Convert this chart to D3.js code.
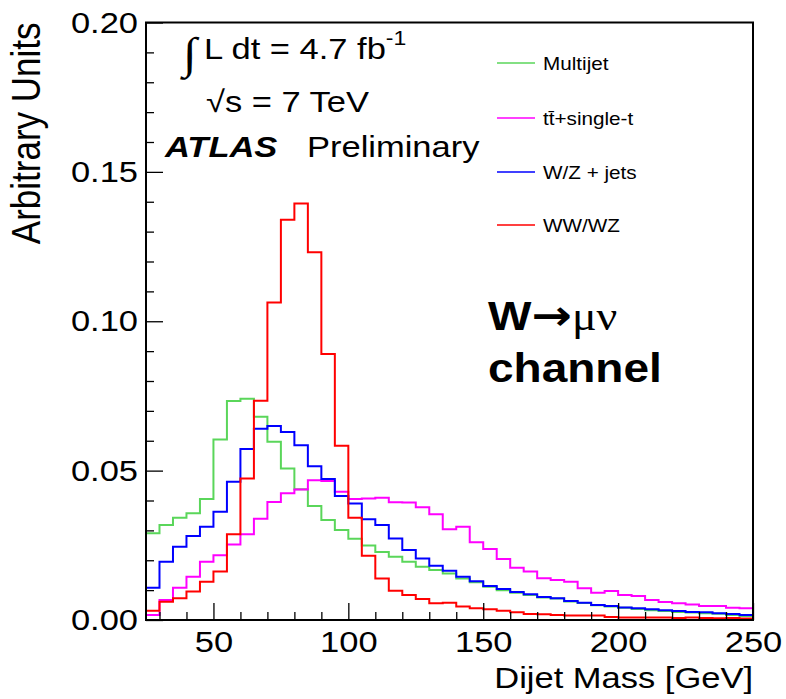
<!DOCTYPE html>
<html><head><meta charset="utf-8">
<script src="https://cdn.jsdelivr.net/npm/d3@7"></script>
<style>
body{margin:0;background:#fff}
text{font-family:"Liberation Sans",Arial,Helvetica,sans-serif;fill:#000}
</style>
</head><body>
<svg id="chart" width="786" height="699"></svg>
<script>
// ---------- data ----------
const binLow = [25,30,35,40,45,50,55,60,65,70,75,80,85,90,95,100,105,110,115,120,125,130,135,140,145,150,155,160,165,170,175,180,185,190,195,200,205,210,215,220,225,230,235,240,245];
const binHigh = 250;
const xTickLabels = [50,100,150,200,250];
const xMinorTicks = [30,40,60,70,80,90,110,120,130,140,160,170,180,190,210,220,230,240];
const yTickLabels = [0.00,0.05,0.10,0.15,0.20];
const yMinorTicks = [0.01,0.02,0.03,0.04,0.06,0.07,0.08,0.09,0.11,0.12,0.13,0.14,0.16,0.17,0.18,0.19];
const seriesNames = ["Multijet","t\u0074\u0304+single-t","W/Z + jets","WW/WZ"];

const multijet = [0.0290,0.0318,0.0342,0.0357,0.0405,0.0604,0.0733,0.0741,0.0680,0.0597,0.0507,0.0438,0.0382,0.0335,0.0301,0.0272,0.0249,0.0228,0.0212,0.0195,0.0178,0.0167,0.0156,0.0139,0.0126,0.0111,0.0100,0.0091,0.0084,0.0075,0.0072,0.0062,0.0057,0.0049,0.0045,0.0041,0.0037,0.0033,0.0030,0.0027,0.0025,0.0023,0.0021,0.0017,0.0013];
const ttbarSingleTop = [0.0017,0.0067,0.0108,0.0145,0.0195,0.0217,0.0253,0.0287,0.0339,0.0395,0.0424,0.0437,0.0468,0.0465,0.0429,0.0405,0.0407,0.0409,0.0394,0.0393,0.0377,0.0354,0.0304,0.0312,0.0260,0.0238,0.0204,0.0175,0.0162,0.0140,0.0134,0.0128,0.0106,0.0091,0.0097,0.0084,0.0080,0.0067,0.0060,0.0056,0.0052,0.0047,0.0047,0.0041,0.0039];
const wzJets = [0.0108,0.0195,0.0245,0.0281,0.0312,0.0362,0.0463,0.0572,0.0640,0.0649,0.0629,0.0585,0.0515,0.0472,0.0415,0.0390,0.0337,0.0318,0.0273,0.0234,0.0206,0.0182,0.0165,0.0145,0.0130,0.0114,0.0104,0.0094,0.0086,0.0077,0.0073,0.0064,0.0058,0.0050,0.0047,0.0042,0.0039,0.0036,0.0033,0.0030,0.0027,0.0026,0.0023,0.0020,0.0017];
const wwwz = [0.0031,0.0061,0.0073,0.0095,0.0128,0.0162,0.0287,0.0474,0.0734,0.1063,0.1340,0.1394,0.1231,0.0890,0.0583,0.0342,0.0215,0.0139,0.0098,0.0084,0.0070,0.0056,0.0058,0.0045,0.0039,0.0036,0.0031,0.0026,0.0020,0.0019,0.0017,0.0015,0.0015,0.0015,0.0010,0.0008,0.0008,0.0008,0.0008,0.0007,0.0008,0.0007,0.0006,0.0007,0.0005];

// ---------- style / layout ----------
const colors = ["#5ad65a","#ff00ff","#0000ff","#ff0000"];
const L = 146, R = 753, T = 22.5, B = 620;
const S = 1.15; // horizontal stretch of text

const svg = d3.select("#chart");
const x = d3.scaleLinear().domain([binLow[0], binHigh]).range([L, R]);
const y = d3.scaleLinear().domain([0, 0.20]).range([B, T]);

// histograms
const series = [multijet, ttbarSingleTop, wzJets, wwwz];
const line = d3.line().x(d => x(d[0])).y(d => y(d[1])).curve(d3.curveStepAfter);
series.forEach((vals, k) => {
  const pts = binLow.map((b, i) => [b, vals[i]]);
  pts.push([binHigh, vals[vals.length - 1]]);
  svg.append("path").attr("d", line(pts)).attr("fill", "none")
     .attr("stroke", colors[k]).attr("stroke-width", 2);
});

// axes
const fmtY = d3.format(".2f");
const gx = svg.append("g").attr("transform", `translate(0,${B})`)
  .call(d3.axisBottom(x).tickValues(xTickLabels).tickSize(-17).tickPadding(11).tickFormat(d3.format("d")));
const gxm = svg.append("g").attr("transform", `translate(0,${B})`)
  .call(d3.axisBottom(x).tickValues(xMinorTicks).tickSize(-8).tickFormat(""));
const gy = svg.append("g").attr("transform", `translate(${L},0)`)
  .call(d3.axisLeft(y).tickValues(yTickLabels).tickSize(-17).tickPadding(8).tickFormat(fmtY));
const gym = svg.append("g").attr("transform", `translate(${L},0)`)
  .call(d3.axisLeft(y).tickValues(yMinorTicks).tickSize(-8).tickFormat(""));
[gx, gxm, gy, gym].forEach(g => {
  g.select(".domain").remove();
  g.selectAll("line").attr("stroke", "#000").attr("stroke-width", 1.3);
  g.selectAll("text").attr("font-size", 30).attr("fill", "#000")
    .style("font-family", '"Liberation Sans",Arial,sans-serif');
});
gx.selectAll("text").attr("transform", `scale(${S},1)`);
gy.selectAll("text").attr("x", -8 / S).attr("transform", `scale(${S},1)`);

// frame
svg.append("rect").attr("x", L).attr("y", T).attr("width", R - L).attr("height", B - T)
  .attr("fill", "none").attr("stroke", "#000").attr("stroke-width", 2);

function stext(px, py, size, anchor) {
  return svg.append("text").attr("transform", `translate(${px},${py}) scale(${S},1)`)
    .attr("font-size", size).attr("text-anchor", anchor || "start");
}

// axis titles
stext(R, 688, 30, "end").text("Dijet Mass [GeV]");
svg.append("text").attr("transform", `translate(40,${T}) rotate(-90) scale(1,${S})`)
  .attr("font-size", 35).attr("text-anchor", "end").text("Arbitrary Units");

// annotations
stext(183, 68, 44).style("font-family", '"Liberation Serif",serif').text("\u222B");
const lum = stext(204, 59, 30);
lum.append("tspan").text("L dt = 4.7 fb");
lum.append("tspan").attr("dy", -14).attr("font-size", 20).text("-1");
stext(206, 112, 30).text("\u221As = 7 TeV");
stext(165, 157, 30).attr("font-weight", "bold").attr("font-style", "italic").text("ATLAS");
stext(307, 157, 30).text("Preliminary");

const ch = stext(488, 330, 40).attr("font-weight", "bold");
ch.append("tspan").text("W");
ch.append("tspan").style("font-family", '"DejaVu Sans",sans-serif').attr("font-size", 42).text("\u2192");
ch.append("tspan").attr("font-weight", "normal").style("font-family", '"Liberation Serif","Times New Roman",serif').text("\u03BC\u03BD");
stext(488, 382, 40).attr("font-weight", "bold").text("channel");

// legend
const legRows = [63, 118, 172, 225];
seriesNames.forEach((n, k) => {
  svg.append("line").attr("x1", 497).attr("x2", 535).attr("y1", legRows[k]).attr("y2", legRows[k])
    .attr("stroke", colors[k]).attr("stroke-width", 1.5);
  stext(543, legRows[k] + 7, 18).text(n);
});
</script>
</body></html>
